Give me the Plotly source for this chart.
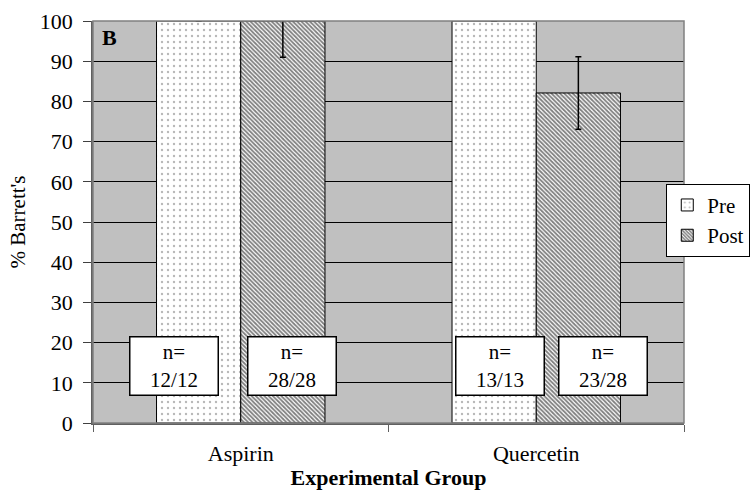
import plotly.graph_objects as go

categories = ["Aspirin", "Quercetin"]
pre_values = [100, 100]
pre_err = [0, 0]
post_values = [100, 82.1]
post_err = [9, 9]
pre_n = ["n=<br>12/12", "n=<br>13/13"]
post_n = ["n=<br>28/28", "n=<br>23/28"]
y_ticks = [0, 10, 20, 30, 40, 50, 60, 70, 80, 90, 100]

FONT = "Liberation Serif"
fig = go.Figure()
fig.add_trace(go.Bar(
    name="Pre", x=categories, y=pre_values,
    marker=dict(color="white", line=dict(color="black", width=1),
                pattern=dict(shape=".", size=6, solidity=0.12, fgcolor="#707070", bgcolor="white")),
    error_y=dict(type="data", array=pre_err, color="black", thickness=1.5, width=3),
))
fig.add_trace(go.Bar(
    name="Post", x=categories, y=post_values,
    marker=dict(color="white", line=dict(color="black", width=1),
                pattern=dict(shape="\\", size=3, solidity=0.6, fgcolor="#000000", bgcolor="white")),
    error_y=dict(type="data", array=post_err, color="black", thickness=1.5, width=3),
))

# n= boxes (pixel offsets from category centre)
pre_shift = [-67, -36]
post_shift = [51, 67]
for i, c in enumerate(categories):
    for txt, sh in ((pre_n[i], pre_shift[i]), (post_n[i], post_shift[i])):
        fig.add_annotation(x=c, y=14.3, xref="x", yref="y", text=txt, showarrow=False,
                           xshift=sh, width=85, height=55, bgcolor="white",
                           bordercolor="black", borderwidth=1.5,
                           font=dict(family=FONT, size=21, color="black"))

fig.add_annotation(x=0, y=1, xref="paper", yref="paper", xanchor="left", yanchor="top",
                   xshift=7, yshift=-2, text="<b>B</b>", showarrow=False,
                   font=dict(family=FONT, size=22, color="black"))

fig.update_layout(
    width=752, height=493,
    margin=dict(l=93, r=68, t=21, b=70, autoexpand=False),
    paper_bgcolor="white", plot_bgcolor="#C0C0C0",
    barmode="group", bargap=0.43, bargroupgap=0,
    font=dict(family=FONT, size=21, color="black"),
    showlegend=True,
    legend=dict(x=0.97, y=0.595, xanchor="left", yanchor="top",
                bgcolor="white", bordercolor="black", borderwidth=1,
                font=dict(family=FONT, size=21, color="black"),
                itemwidth=30, tracegroupgap=0),
    xaxis=dict(tickson="boundaries", ticks="outside", ticklen=7, tickcolor="#606060",
               showline=True, linecolor="#606060", linewidth=1.5,
               ticklabelstandoff=10,
               tickfont=dict(family=FONT, size=22),
               title=dict(text="<b>Experimental Group</b>", standoff=4,
                          font=dict(family=FONT, size=22))),
    yaxis=dict(range=[0, 100], tickvals=y_ticks, ticks="outside", ticklen=8,
               tickcolor="#404040", showline=True, linecolor="#606060", linewidth=1.5,
               ticklabelstandoff=6,
               showgrid=True, gridcolor="black", gridwidth=1, zeroline=False,
               tickfont=dict(family=FONT, size=22),
               title=dict(text="% Barrett's", standoff=8, font=dict(family=FONT, size=21))),
)
fig.add_shape(type="rect", xref="paper", yref="paper", x0=0, x1=1, y0=0, y1=1,
              line=dict(color="#808080", width=1.5), layer="above")
fig.write_html("out.html")
